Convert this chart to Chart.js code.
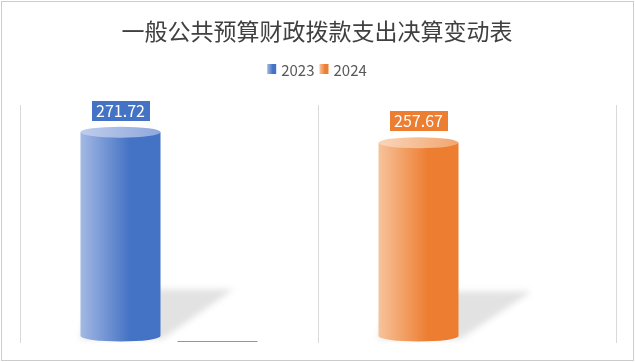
<!DOCTYPE html>
<html>
<head>
<meta charset="utf-8">
<script src="https://cdn.jsdelivr.net/npm/chart.js@4"></script>
<style>
  html, body { margin: 0; padding: 0; background: #fff; }
  canvas { display: block; }
</style>
</head>
<body>
<canvas id="myChart" width="635" height="362"></canvas>
<script>
const title = '一般公共预算财政拨款支出决算变动表';
const categories = ['2023', '2024'];
const seriesLabels = ['2023', '2024'];
const values2023 = [271.72, null];
const values2024 = [null, 257.67];
const values2024Zero = [0, null];
const colorHex = ['#4472c4', '#ed7d31'];
const lightHex = ['#a3b9e4', '#f7c39b'];
const topHex = [['#bfcdec', '#8fa8dd'], ['#f9d6ba', '#f2a56f']];

const font = "'Noto Sans CJK SC', 'Noto Sans', sans-serif";
const ry = 5.5;

function bodyGradient(ctx, l, r, i) {
  let g = ctx.createLinearGradient(l, 0, r, 0);
  g.addColorStop(0, lightHex[i]);
  g.addColorStop(0.62, colorHex[i]);
  g.addColorStop(1, colorHex[i]);
  return g;
}

// draws the page frame, title and legend, then the bars as cylinders
const cylinders = {
  id: 'cylinders',
  beforeDraw(chart) {
    let ctx = chart.ctx;
    ctx.save();
    ctx.fillStyle = '#fff';
    ctx.fillRect(0, 0, chart.width, chart.height);
    ctx.strokeStyle = '#cccccc';
    ctx.lineWidth = 1;
    ctx.strokeRect(1.5, 1.5, 632, 359);

    ctx.fillStyle = '#404040';
    ctx.font = '23px ' + font;
    ctx.textAlign = 'center';
    ctx.textBaseline = 'middle';
    ctx.fillText(title, 317, 31);

    ctx.font = '15px ' + font;
    ctx.textAlign = 'left';
    let widths = seriesLabels.map(t => 14 + ctx.measureText(t).width);
    let total = widths.reduce((a, b) => a + b, 0) + 5;
    let x = 317 - total / 2;
    seriesLabels.forEach((t, i) => {
      ctx.fillStyle = bodyGradient(ctx, x, x + 9, i);
      ctx.fillRect(x, 64, 9, 10);
      ctx.fillStyle = '#595959';
      ctx.fillText(t, x + 14, 70);
      x += widths[i] + 5;
    });
    ctx.restore();
  },
  beforeDatasetsDraw(chart) {
    let ctx = chart.ctx;
    let bars = [];
    chart.data.datasets.forEach((ds, i) => {
      let meta = chart.getDatasetMeta(i);
      meta.data.forEach((el, j) => {
        let v = ds.data[j];
        if (v === null || v === undefined) return;
        let p = el.getProps(['x', 'y', 'base', 'width'], true);
        bars.push({ p: p, v: v, c: ds.colorIndex });
      });
    });

    ctx.save();
    // shadows first
    bars.forEach(b => {
      if (!b.v) return;
      let l = b.p.x - b.p.width / 2, r = b.p.x + b.p.width / 2;
      let h = (b.p.base - b.p.y) * 0.23;
      ctx.filter = 'blur(3px)';
      ctx.fillStyle = '#e2e2e2';
      ctx.beginPath();
      ctx.moveTo(l + 10, b.p.base - h);
      ctx.lineTo(r + 73, b.p.base - h);
      ctx.lineTo(r + 2, b.p.base + 3);
      ctx.lineTo(l, b.p.base + 3);
      ctx.closePath();
      ctx.fill();
    });
    ctx.filter = 'none';

    bars.forEach(b => {
      let w = b.p.width, cx = b.p.x;
      let l = cx - w / 2, r = cx + w / 2;
      let y = b.p.y, base = b.p.base;
      if (!b.v) {
        ctx.fillStyle = colorHex[b.c];
        ctx.fillRect(l, Math.round(base + ry) - 1, w, 1);
        return;
      }
      ctx.fillStyle = bodyGradient(ctx, l, r, b.c);
      ctx.beginPath();
      ctx.moveTo(l, y);
      ctx.lineTo(l, base);
      ctx.ellipse(cx, base, w / 2, ry, 0, Math.PI, 0, true);
      ctx.lineTo(r, y);
      ctx.closePath();
      ctx.fill();

      let tg = ctx.createLinearGradient(l, 0, r, 0);
      tg.addColorStop(0, topHex[b.c][0]);
      tg.addColorStop(1, topHex[b.c][1]);
      ctx.fillStyle = tg;
      ctx.beginPath();
      ctx.ellipse(cx, y, w / 2, ry, 0, 0, Math.PI * 2);
      ctx.fill();

      // value label
      let txt = b.v.toFixed(2);
      ctx.font = '16px ' + font;
      let tw = ctx.measureText(txt).width + 9;
      let by = y - ry - 6;
      ctx.fillStyle = colorHex[b.c];
      ctx.fillRect(Math.round(cx - tw / 2), Math.round(by - 20), Math.round(tw), 20);
      ctx.fillStyle = '#fff';
      ctx.textAlign = 'center';
      ctx.textBaseline = 'middle';
      ctx.fillText(txt, cx, by - 10);
    });
    ctx.restore();
    return false;
  }
};

let ctx = document.getElementById('myChart').getContext('2d');
let myChart = new Chart(ctx, {
  type: 'bar',
  data: {
    labels: categories,
    datasets: [
      { label: seriesLabels[0], data: values2023, stack: 'a', colorIndex: 0, backgroundColor: colorHex[0] },
      { label: seriesLabels[1], data: values2024, stack: 'a', colorIndex: 1, backgroundColor: colorHex[1] },
      { label: seriesLabels[1], data: values2024Zero, stack: 'b', colorIndex: 1, backgroundColor: colorHex[1] }
    ]
  },
  options: {
    responsive: false,
    animation: false,
    categoryPercentage: 0.651,
    barPercentage: 0.825,
    layout: {
      padding: { left: 20, right: 19, top: 105, bottom: 19 }
    },
    scales: {
      x: {
        stacked: true,
        grid: { offset: true, color: '#d9d9d9', tickLength: 7 },
        border: { display: false },
        ticks: { display: false }
      },
      y: {
        stacked: true,
        display: false,
        min: 0,
        max: 308
      }
    },
    plugins: {
      legend: { display: false },
      title: { display: false },
      tooltip: { enabled: false }
    }
  },
  plugins: [cylinders]
});
</script>
</body>
</html>
